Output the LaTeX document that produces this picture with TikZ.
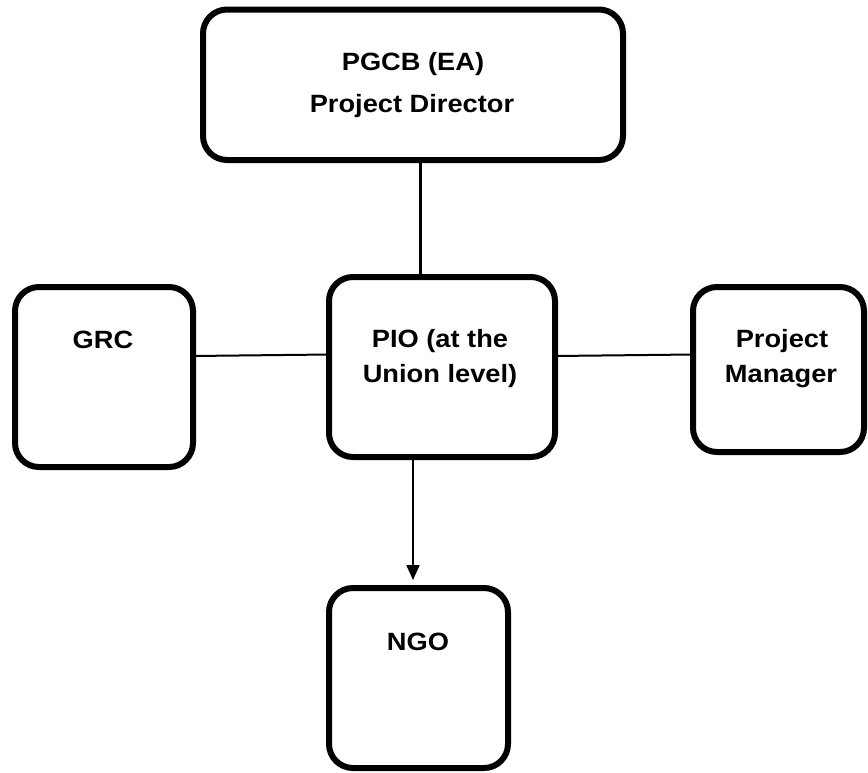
\documentclass[tikz,border=0pt]{standalone}
\usepackage{fontspec}
\setmainfont{Liberation Sans}
\usetikzlibrary{arrows.meta}
\tikzset{
  box/.style={draw=black, line width=6pt, rounded corners=24pt, fill=white, inner sep=0pt, outer sep=0pt},
  lbl/.style={anchor=base, inner sep=0pt, font=\bfseries\fontsize{25}{30}\selectfont},
  link/.style={draw=black, line width=2pt},
  trunk/.style={draw=black, line width=3.2pt},
}
\newcommand{\wideText}[1]{\scalebox{1.09}[1]{#1}}
\begin{document}
\begin{tikzpicture}[x=1pt,y=-1pt]
\useasboundingbox (0,0) rectangle (868,772);
% boxes
\node[box, minimum width=420pt, minimum height=150.5pt] (top) at (413,84.75) {};
\node[box, minimum width=178pt, minimum height=180pt] (grc) at (104,377) {};
\node[box, minimum width=226pt, minimum height=180pt] (pio) at (442,367) {};
\node[box, minimum width=171pt, minimum height=165pt] (pm) at (778.5,369.5) {};
\node[box, minimum width=179pt, minimum height=180pt] (ngo) at (418.5,678) {};
% texts
\node[lbl] (t1) at (413,70) {\wideText{PGCB (EA)}};
\node[lbl] (t2) at (412,112) {\wideText{Project Director}};
\node[lbl] (g1) at (103,348) {\wideText{GRC}};
\node[lbl] (p1) at (440,347) {\wideText{PIO (at the}};
\node[lbl] (p2) at (440,382) {\wideText{Union level)}};
\node[lbl] (m1) at (782,347) {\wideText{Project}};
\node[lbl] (m2) at (781,382) {\wideText{Manager}};
\node[lbl] (n1) at (418,650) {\wideText{NGO}};
% helper coordinates
\coordinate (vx) at (420.7,0);
\coordinate (hyl) at (0,356);
\coordinate (hyr) at (0,354.5);
\coordinate (ax) at (413,0);
% connectors
\draw[trunk] (top.south -| vx) -- (pio.north -| vx);
\draw[link] (grc.east |- hyl) -- (pio.west |- hyr);
\draw[link] (pio.east |- hyl) -- (pm.west |- hyr);
\draw[link, -{Triangle[length=15pt,width=13pt]}, shorten >=8pt] (pio.south -| ax) -- (ngo.north -| ax);
\end{tikzpicture}
\end{document}
